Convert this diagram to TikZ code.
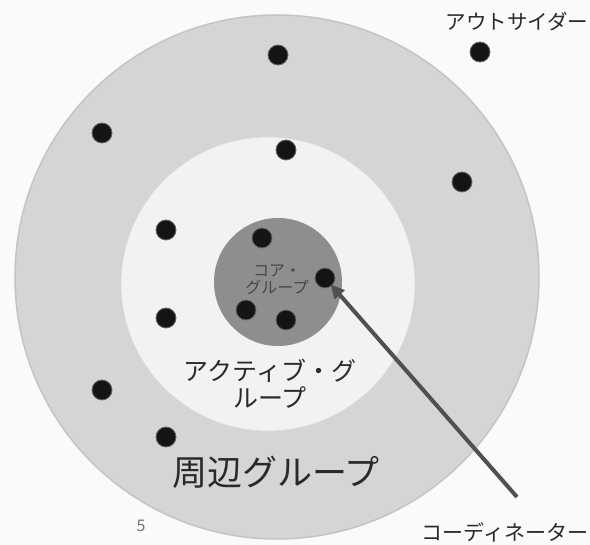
\documentclass[tikz,border=0pt]{standalone}
\usepackage{fontspec}
\setmainfont{Noto Sans CJK JP}
\usetikzlibrary{arrows.meta}
\definecolor{bgc}{HTML}{FAFAFA}
\definecolor{outerc}{HTML}{D5D5D5}
\definecolor{outerrim}{HTML}{C4C4C4}
\definecolor{midc}{HTML}{F2F2F2}
\definecolor{innerc}{HTML}{8E8E8E}
\definecolor{txtc}{HTML}{2A2A2A}
\definecolor{arrc}{HTML}{505050}
\tikzset{
  member/.style={circle, fill=black!92, draw=black!60, line width=0.8pt, minimum size=20pt, inner sep=0pt},
  lbl/.style={text=txtc, inner sep=0pt, align=center},
}
\begin{document}
\begin{tikzpicture}[x=1pt,y=-1pt]
\fill[bgc] (0,0) rectangle (590,545);
\useasboundingbox (0,0) rectangle (590,545);
% rings
\node[circle, fill=outerc, draw=outerrim, line width=1.5pt, minimum size=524pt, inner sep=0pt] (outer) at (277,277) {};
\node[circle, fill=midc, draw=black!15, line width=0.6pt, minimum size=294pt, inner sep=0pt] (mid) at (268,284) {};
\node[circle, fill=innerc, minimum size=128pt, inner sep=0pt] (inner) at (278,282) {};
% members
\node[member] (p1) at (278,55) {};
\node[member] (out) at (480,52) {};
\node[member] (p2) at (102,133) {};
\node[member] (p3) at (286,150) {};
\node[member] (p4) at (462,182) {};
\node[member] (a1) at (166,230) {};
\node[member] (c1) at (262,238) {};
\node[member] (coord) at (325,278) {};
\node[member] (a2) at (166,318) {};
\node[member] (c2) at (246,310) {};
\node[member] (c3) at (286,320) {};
\node[member] (p5) at (102,390) {};
\node[member] (p6) at (166,437) {};
% labels
\node[lbl, font=\fontsize{20.5}{24}\selectfont] (tout) at (517,22) {アウトサイダー};
\node[lbl, font=\fontsize{21}{24}\selectfont] (tcoord) at (505,532) {コーディネーター};
\node[lbl, font=\fontsize{35}{40}\selectfont] (tper) at (276,472) {周辺グループ};
\node[lbl, font=\fontsize{25}{27}\selectfont] (tact) at (270,384) {アクティブ・グ\\ループ};
\node[lbl, text=black!72, font=\fontsize{16}{17}\selectfont] (tcore) at (277,280) {コア・\\グループ};
\node[lbl, text=black!55, font=\fontsize{16}{18}\selectfont] (tpage) at (141,526) {5};
% arrow
\coordinate (ctail) at (517,497);
\draw[arrc, line width=4pt, -{Triangle[length=14pt,width=13pt]}, shorten >=-2pt] (ctail) -- (coord);
\end{tikzpicture}
\end{document}
